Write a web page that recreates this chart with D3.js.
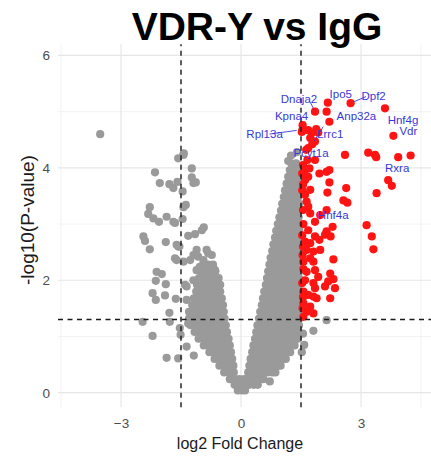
<!DOCTYPE html>
<html lang="en">
<head>
<meta charset="UTF-8">
<title>VDR-Y vs IgG</title>
<script src="https://d3js.org/d3.v7.min.js"></script>
<style>
  body {
    margin: 0;
    background: #fff;
  }
  svg text {
    font-family: "Liberation Sans", Arial, sans-serif;
  }
</style>
</head>
<body>
<div id="chart"></div>
<script>

// ------ Data (log2 fold change, -log10 p-value) ------

const xTicks = [-3, 0, 3];
const yTicks = [0, 2, 4, 6];
const xMinor = [-4.5, -1.5, 1.5, 4.5];
const yMinor = [1, 3, 5];
const fcCut = 1.5;
const pCut = 0.05;

// dense core of the non-significant genes, one row per -log10(p) level
const grayRows = [
  [0.04, [-0.08, 0.02, 0.1]],
  [0.14, [-0.16, -0.04, 0.08, 0.2, 0.32, 0.42]],
  [0.24, [-0.28, -0.16, -0.04, 0.08, 0.2, 0.32, 0.44, 0.56]],
  [0.36, [-0.42, -0.3, -0.18, 0.18, 0.3, 0.42, 0.54, 0.66, 0.78, 0.86]],
  [0.48, [-0.54, -0.42, -0.3, -0.19, 0.21, 0.33, 0.45, 0.57, 0.69, 0.81, 0.93, 0.99]],
  [0.60, [-0.66, -0.54, -0.42, -0.3, -0.22, 0.24, 0.36, 0.48, 0.6, 0.72, 0.84, 0.96, 1.08, 1.12]],
  [0.72, [-0.79, -0.67, -0.55, -0.43, -0.31, -0.25, 0.28, 0.4, 0.52, 0.64, 0.76, 0.88, 1.0, 1.12, 1.23]],
  [0.84, [-0.93, -0.81, -0.69, -0.57, -0.45, -0.33, -0.28, 0.31, 0.43, 0.55, 0.67, 0.79, 0.91, 1.03, 1.15, 1.27, 1.34]],
  [0.96, [-1.06, -0.94, -0.82, -0.7, -0.58, -0.46, -0.34, -0.31, 0.35, 0.47, 0.59, 0.71, 0.83, 0.95, 1.07, 1.19, 1.31, 1.42]],
  [1.08, [-1.16, -1.04, -0.92, -0.8, -0.68, -0.56, -0.44, -0.35, 0.38, 0.5, 0.62, 0.74, 0.86, 0.98, 1.1, 1.22, 1.34, 1.44]],
  [1.20, [-1.26, -1.14, -1.02, -0.9, -0.78, -0.66, -0.54, -0.42, -0.38, 0.41, 0.53, 0.65, 0.77, 0.89, 1.01, 1.13, 1.25, 1.37, 1.45]],
  [1.32, [-1.3, -1.18, -1.06, -0.94, -0.82, -0.7, -0.58, -0.46, -0.41, 0.45, 0.57, 0.69, 0.81, 0.93, 1.05, 1.17, 1.29, 1.41, 1.46]],
  [1.44, [-1.3, -1.18, -1.06, -0.94, -0.82, -0.7, -0.58, -0.46, -0.43, 0.48, 0.6, 0.72, 0.84, 0.96, 1.08, 1.2, 1.32, 1.44]],
  [1.56, [-1.22, -1.09, -0.97, -0.85, -0.73, -0.61, -0.49, -0.45, 0.52, 0.64, 0.76, 0.88, 1.0, 1.12, 1.24, 1.36, 1.45]],
  [1.68, [-1.18, -1.05, -0.93, -0.81, -0.69, -0.57, -0.48, 0.55, 0.67, 0.79, 0.91, 1.03, 1.15, 1.27, 1.39, 1.45]],
  [1.80, [-1.12, -0.99, -0.87, -0.75, -0.63, -0.52, 0.58, 0.7, 0.82, 0.94, 1.06, 1.18, 1.3, 1.42]],
  [1.92, [-1.1, -0.97, -0.85, -0.73, -0.61, -0.52, 0.62, 0.74, 0.86, 0.98, 1.1, 1.22, 1.34, 1.45]],
  [2.04, [-1.05, -0.92, -0.8, -0.68, -0.56, 0.65, 0.77, 0.89, 1.01, 1.13, 1.25, 1.37, 1.45]],
  [2.16, [-1.0, -0.88, -0.76, -0.64, 0.68, 0.8, 0.92, 1.04, 1.16, 1.28, 1.4, 1.46]],
  [2.28, [-0.95, -0.82, -0.7, 0.71, 0.83, 0.95, 1.07, 1.19, 1.31, 1.43]],
  [2.40, [0.74, 0.86, 0.98, 1.1, 1.22, 1.34, 1.45]],
  [2.52, [0.78, 0.9, 1.02, 1.14, 1.26, 1.38, 1.46]],
  [2.64, [0.81, 0.93, 1.05, 1.17, 1.29, 1.41, 1.46]],
  [2.76, [0.85, 0.97, 1.09, 1.21, 1.33, 1.45]],
  [2.88, [0.88, 1.0, 1.12, 1.24, 1.36, 1.46]],
  [3.00, [0.92, 1.04, 1.16, 1.28, 1.4, 1.46]],
  [3.12, [0.96, 1.08, 1.2, 1.32, 1.44]],
  [3.24, [1.0, 1.12, 1.24, 1.36, 1.46]],
  [3.36, [1.03, 1.15, 1.27, 1.39, 1.46]],
  [3.48, [1.07, 1.19, 1.31, 1.43]],
  [3.60, [1.1, 1.22, 1.34, 1.45]],
  [3.72, [1.14, 1.26, 1.38, 1.46]],
  [3.84, [1.18, 1.3, 1.42]],
  [3.96, [1.22, 1.34, 1.45]],
  [4.08, [1.26, 1.38]]
];

// scattered non-significant genes
const grayFc = [-3.52, -1.44, -1.57, -1.43, -2.15, -2.03, -1.79, -1.69, -1.59, -1.23, -1.23, -1.19, -1.13,
  -1.46, -2.28, -2.32, -2.19, -2.05, -1.86, -1.69, -1.65, -1.46, -1.44, -1.38,
  -2.44, -2.4, -2.28, -1.88, -1.61, -1.54, -1.32, -1.15, -0.98, -0.93,
  -1.65, -1.61, -1.44, -1.19, -1.11, -1.07, -0.94, -0.86, -0.82, -0.73, -1.03, -0.9, -0.78, -0.69,
  -1.57, -1.27, -1.11, -0.65, -2.11, -1.98, -2.13, -1.88, -2.21, -2.13, -1.9, -1.63,
  -1.4, -1.36, -1.36, -1.19, -1.79, -2.46, -1.78, -2.21, -1.32, -1.53, -1.51,
  -1.36, -1.18, -1.86, -1.57, 1.25, 1.4, 1.18, 2.14, 1.81, 1.55, 1.58, 1.52, 0.72];
const grayP = [4.6, 4.23, 4.17, 4.26, 3.92, 3.73, 3.71, 3.64, 3.75, 3.99, 3.83, 3.73, 3.74,
  3.58, 3.3, 3.18, 3.1, 3.04, 3.13, 3.04, 3.02, 3.09, 3.3, 3.34,
  2.78, 2.7, 2.55, 2.68, 2.63, 2.6, 2.79, 2.82, 2.89, 2.94,
  2.39, 2.36, 2.33, 2.45, 2.54, 2.42, 2.36, 2.54, 2.48, 2.45, 2.24, 2.21, 2.18, 2.21,
  2.6, 2.36, 2.18, 2.18, 2.15, 2.11, 1.99, 1.93, 1.77, 1.65, 1.73, 1.67,
  1.92, 1.65, 1.89, 2.0, 1.42, 1.26, 1.26, 1.01, 1.23, 1.15, 1.03,
  0.82, 0.66, 0.62, 0.61, 4.22, 4.28, 4.12, 1.29, 1.1, 1.05, 0.85, 0.72, 0.2];

// significant genes (log2FC > 1.5, p < 0.05)
const redFc = [2.17, 2.14, 1.85, 2.74, 3.6, 2.21, 1.54, 1.52, 1.68, 1.77, 1.88, 1.93,
  1.73, 1.85, 1.78, 1.63, 1.68, 1.85, 1.54, 2.6, 3.18, 3.35, 3.38, 3.81, 3.93, 4.24,
  3.68, 3.77, 3.39, 1.96, 2.14, 2.21, 2.21, 2.63, 1.6, 1.68, 2.16, 2.56, 2.66,
  1.6, 1.73, 1.64, 1.68, 1.73, 2.14, 3.14, 3.27, 3.31, 2.29, 2.14, 2.1, 2.24,
  1.85, 1.98, 1.68, 1.85, 1.96, 1.98, 1.6, 1.73, 1.64, 1.81, 1.56, 1.73, 1.81, 2.31,
  1.64, 1.85, 1.93, 1.6, 2.23, 2.31, 2.18, 2.1, 2.35, 1.81, 1.85, 1.68, 1.81, 1.89, 2.23,
  1.56, 1.73, 1.81, 1.64, 1.56, 1.56, 1.54, 1.55, 1.53, 1.56, 1.54, 1.55, 1.53, 1.56,
  1.55, 1.53, 1.55, 1.53, 1.55, 1.66, 1.71, 1.6];
const redP = [5.16, 5.0, 5.0, 5.15, 5.06, 4.82, 4.76, 4.64, 4.67, 4.62, 4.69, 4.63,
  4.53, 4.47, 4.42, 4.32, 4.35, 4.14, 4.68, 4.23, 4.27, 4.23, 4.19, 4.57, 4.19, 4.22,
  3.78, 3.68, 3.55, 3.9, 3.93, 3.96, 3.74, 3.64, 3.78, 3.84, 3.56, 3.42, 3.38,
  3.52, 3.61, 3.4, 3.31, 3.19, 3.25, 2.98, 2.78, 2.55, 2.95, 2.87, 2.81, 2.78,
  3.04, 3.16, 2.89, 2.78, 2.72, 2.54, 2.69, 2.66, 2.54, 2.51, 2.33, 2.39, 2.33, 2.37,
  2.15, 2.18, 2.06, 2.0, 2.12, 2.02, 1.98, 1.89, 1.86, 1.95, 1.86, 1.74, 1.71, 1.68, 1.68,
  1.59, 1.53, 1.41, 1.44, 1.8, 1.35, 1.5, 1.7, 1.95, 2.2, 2.45, 2.6, 2.8, 3.0,
  3.25, 3.6, 3.7, 3.9, 4.05, 4.14, 3.99, 3.96];

// labelled genes
const geneNames = ["Dnaja2", "Ipo5", "Dpf2", "Kpna4", "Anp32a", "Hnf4g", "Vdr", "Rpl13a", "Lrrc1", "Pcyt1a", "Rxra", "Hnf4a"];
const geneFc = [1.85, 2.17, 2.74, 1.54, 2.21, 3.6, 3.81, 1.54, 1.78, 1.85, 3.93, 1.98];
const geneP = [5.0, 5.16, 5.15, 4.76, 4.82, 5.06, 4.57, 4.68, 4.42, 4.14, 4.19, 3.16];

// ------ Layout ------

const width = 431, height = 456;
const ptRadius = 4.1;

// label placement (pixel offsets from the point, as ggrepel left them)
const labelOffset = {
  Dnaja2: [-16, -13, [-2, -4]], Ipo5: [13, -9], Dpf2: [23, -7, [7, -3]], Kpna4: [-11, -9],
  Anp32a: [27, -6], Hnf4g: [18, 12], Vdr: [15, -5], Rpl13a: [-38, 4, [-15, 2]],
  Lrrc1: [18, -10, [5, -8]], Pcyt1a: [-4, -7], Rxra: [-1, 11], Hnf4a: [13, 0]
};

const x = d3.scaleLinear().domain([-4.575, 4.8]).range([58, 433]);
const y = d3.scaleLinear().domain([-0.26, 6.2]).range([407.3, 44.2]);

const svg = d3.select("#chart")
  .append("svg")
    .attr("width", width)
    .attr("height", height);

// grid (theme_minimal)
svg.append("g")
  .selectAll("line")
  .data(xMinor)
  .join("line")
    .attr("x1", d => x(d)).attr("x2", d => x(d))
    .attr("y1", y.range()[0]).attr("y2", y.range()[1])
    .attr("stroke", "#ededed").attr("stroke-width", 0.7);

svg.append("g")
  .selectAll("line")
  .data(yMinor)
  .join("line")
    .attr("x1", x.range()[0]).attr("x2", x.range()[1])
    .attr("y1", d => y(d)).attr("y2", d => y(d))
    .attr("stroke", "#ededed").attr("stroke-width", 0.7);

svg.append("g")
  .selectAll("line")
  .data(xTicks)
  .join("line")
    .attr("x1", d => x(d)).attr("x2", d => x(d))
    .attr("y1", y.range()[0]).attr("y2", y.range()[1])
    .attr("stroke", "#e6e6e6").attr("stroke-width", 1.2);

svg.append("g")
  .selectAll("line")
  .data(yTicks)
  .join("line")
    .attr("x1", x.range()[0]).attr("x2", x.range()[1])
    .attr("y1", d => y(d)).attr("y2", d => y(d))
    .attr("stroke", "#e6e6e6").attr("stroke-width", 1.2);

// axes text
const xAxis = svg.append("g")
  .attr("transform", `translate(0,${y.range()[0]})`)
  .call(d3.axisBottom(x).tickValues(xTicks).tickSize(0).tickPadding(11).tickFormat(d3.format("d")));
xAxis.select(".domain").remove();
xAxis.selectAll("text").attr("fill", "#4d4d4d").style("font-size", "13.5px");

const yAxis = svg.append("g")
  .attr("transform", `translate(${x.range()[0]},0)`)
  .call(d3.axisLeft(y).tickValues(yTicks).tickSize(0).tickPadding(8).tickFormat(d3.format("d")));
yAxis.select(".domain").remove();
yAxis.selectAll("text").attr("fill", "#4d4d4d").style("font-size", "13.5px");

svg.append("text")
  .attr("x", 240).attr("y", 449)
  .attr("text-anchor", "middle")
  .attr("fill", "#1a1a1a")
  .style("font-size", "16px")
  .text("log2 Fold Change");

svg.append("text")
  .attr("transform", "translate(34,220) rotate(-90)")
  .attr("text-anchor", "middle")
  .attr("fill", "#1a1a1a")
  .style("font-size", "19px")
  .text("-log10(P-value)");

// points
const grayPoints = grayRows.flatMap(([p, fcs]) => fcs.map(fc => ({ fc, p })))
  .concat(grayFc.map((fc, i) => ({ fc, p: grayP[i] })));
const redPoints = redFc.map((fc, i) => ({ fc, p: redP[i] }));

svg.append("g")
  .selectAll("circle")
  .data(grayPoints)
  .join("circle")
    .attr("cx", d => x(d.fc))
    .attr("cy", d => y(d.p))
    .attr("r", ptRadius)
    .attr("fill", "#9a9a9a");

svg.append("g")
  .selectAll("circle")
  .data(redPoints)
  .join("circle")
    .attr("cx", d => x(d.fc))
    .attr("cy", d => y(d.p))
    .attr("r", ptRadius)
    .attr("fill", "#ff1414");

// threshold lines
const dash = { stroke: "#1a1a1a", width: 1.4, array: "5,4.5" };
svg.append("g")
  .selectAll("line")
  .data([-fcCut, fcCut])
  .join("line")
    .attr("x1", d => x(d)).attr("x2", d => x(d))
    .attr("y1", y.range()[0]).attr("y2", y.range()[1])
    .attr("stroke", dash.stroke).attr("stroke-width", dash.width)
    .attr("stroke-dasharray", dash.array);

svg.append("line")
  .attr("x1", x.range()[0]).attr("x2", x.range()[1])
  .attr("y1", y(-Math.log10(pCut))).attr("y2", y(-Math.log10(pCut)))
  .attr("stroke", dash.stroke).attr("stroke-width", dash.width)
  .attr("stroke-dasharray", dash.array);

// gene labels
const genes = geneNames.map((name, i) => ({ name, fc: geneFc[i], p: geneP[i], off: labelOffset[name] }));
const labelColor = "#3838d8";

svg.append("g")
  .selectAll("line")
  .data(genes.filter(d => d.off[2]))
  .join("line")
    .attr("x1", d => x(d.fc) + d.off[2][0] * 2.2)
    .attr("y1", d => y(d.p) + d.off[2][1] * 2.2)
    .attr("x2", d => x(d.fc) + d.off[2][0] * 0.4)
    .attr("y2", d => y(d.p) + d.off[2][1] * 0.4)
    .attr("stroke", labelColor)
    .attr("stroke-width", 0.9);

svg.append("g")
  .selectAll("text")
  .data(genes)
  .join("text")
    .attr("x", d => x(d.fc) + d.off[0])
    .attr("y", d => y(d.p) + d.off[1])
    .attr("text-anchor", "middle")
    .attr("dominant-baseline", "central")
    .attr("fill", labelColor)
    .style("font-size", "11.5px")
    .text(d => d.name);

// title
svg.append("text")
  .attr("x", 257).attr("y", 40)
  .attr("text-anchor", "middle")
  .attr("fill", "#000")
  .style("font-size", "39px")
  .style("font-weight", "bold")
  .text("VDR-Y vs IgG");

</script>
</body>
</html>
